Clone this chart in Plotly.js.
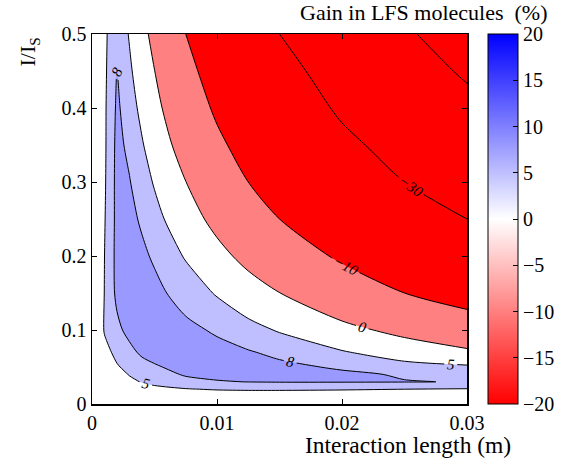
<!DOCTYPE html>
<html><head><meta charset="utf-8">
<script src="https://cdn.plot.ly/plotly-3.0.1.min.js"></script>
<style>html,body{margin:0;padding:0;background:#fff}#chart{width:572px;height:458px}</style>
</head><body><div id="chart"></div>
<script>
// Interaction length (m) grid and I/I_S grid
const lengthM = [0, 0.001, 0.002, 0.003, 0.004, 0.005, 0.0075, 0.01, 0.0125, 0.015, 0.02, 0.025, 0.03];
const intensity = [0, 0.01, 0.02, 0.03, 0.04, 0.05, 0.07, 0.1, 0.15, 0.2, 0.25, 0.3, 0.35, 0.4, 0.45, 0.5];
// Gain in LFS molecules (%), one row per intensity value
const gain = [
  [0, 0,   0,    0,    0,    0,    0,     0,     0,     0,     0,     0,     0],
  [0, 0.5, 1.0,  1.4,  1.8,  2.1,  2.6,   2.8,   2.9,   2.9,   2.85,  2.75,  2.6],
  [0, 1.0, 1.9,  2.8,  3.5,  4.0,  4.8,   5.25,  5.4,   5.4,   5.25,  5.0,   4.8],
  [0, 1.5, 2.9,  4.2,  5.2,  6.0,  7.3,   7.8,   8.05,  8.15,  8.15,  8.1,   7.9],
  [0, 2.0, 3.7,  5.2,  6.2,  7.0,  8.25,  8.7,   8.8,   8.7,   8.48,  7.75,  6.47],
  [0, 2.5, 4.7,  5.9,  6.9,  7.7,  8.9,   9.3,   9.07,  8.65,  7.65,  6.18,  5.6],
  [0, 3.9, 5.9,  7.2,  8.55, 9.0,  9.4,   8.82,  8.22,  7.35,  5.29,  3.15,  0.99],
  [0, 5.3, 7.3,  8.9,  9.3,  9.4,  8.65,  7.65,  6.18,  4.69,  1.6,   -1.61, -4.97],
  [0, 5.1, 8.7,  9.2,  9.2,  8.7,  6.91,  4.69,  2.38,  0.06,  -4.97, -10,   -14],
  [0, 5.0, 8.9,  9.1,  8.48, 7.65, 4.69,  1.6,   -1.61, -4.97, -11.33,-16.67,-22],
  [0, 4.8, 8.85, 8.65, 7.65, 6.18, 2.38,  -1.61, -5.8,  -10,   -16.67,-23.33,-30],
  [0, 4.6, 8.9,  8.14, 6.47, 4.69, 0.06,  -4.97, -10,   -14,   -22,   -30,   -35.45],
  [0, 4.5, 8.8,  7.35, 5.29, 3.15, -2.45, -8.32, -13.33,-18,   -27.33,-34.5, -40.9],
  [0, 4.5, 8.5,  6.47, 4.07, 1.6,  -4.97, -11.33,-16.67,-22,   -31.8, -39.1, -46.4],
  [0, 4.4, 8.05, 5.59, 2.84, 0.06, -7.48, -14,   -20,   -26,   -35.45,-43.6, -51.8],
  [0, 4.3, 7.6,  4.7,  1.6,  -1.6, -10,   -16.67,-23.33,-30,   -39.1, -48.2, -57.2]
];
// filled bands: region above 5, above 8, below 0, below -10
const bandValues = [5, 8, 0, -10];
const bandAbove = [true, true, false, false];
const levelsNeg = [-50, -30, -10];
const levelsLow = [0, 5];
const levelsTop = [8];
const xTicks = [0, 0.01, 0.02, 0.03];
const xTickText = ['0', '0.01', '0.02', '0.03'];
const yTicks = [0, 0.1, 0.2, 0.3, 0.4, 0.5];
const yTickText = ['0', '0.1', '0.2', '0.3', '0.4', '0.5'];
const cbTicks = [-20, -15, -10, -5, 0, 5, 10, 15, 20];

// styles
const FONT = 'Liberation Serif, Times New Roman, serif';
const bandColors = ['rgb(191,191,255)', 'rgb(153,153,255)', 'rgb(255,128,128)', 'rgb(255,0,0)'];
const bwr = [[0, 'rgb(255,0,0)'], [0.5, 'rgb(255,255,255)'], [1, 'rgb(0,0,255)']];
// tiny offset so a level equal to the all-zero axis edges is not traced along the corner
const EPS = 1e-6;

const traces = [];
bandValues.forEach((v, i) => {
  // Plotly shades the region that FAILS the constraint, so invert the operation
  traces.push({
    type: 'contour', x: lengthM, y: intensity, z: gain,
    contours: {type: 'constraint', operation: bandAbove[i] ? '<' : '>', value: v - EPS},
    fillcolor: bandColors[i], line: {width: 0, color: 'rgba(0,0,0,0)', smoothing: 0.8},
    showscale: false, hoverinfo: 'skip', showlegend: false
  });
});
function lineTrace(levels) {
  const step = levels.length > 1 ? levels[1] - levels[0] : 1;
  return {
    type: 'contour', x: lengthM, y: intensity, z: gain, autocontour: false,
    contours: {coloring: 'none', start: levels[0] - EPS, end: levels[levels.length - 1] + step / 2, size: step,
      showlabels: true, labelformat: '.0f',
      labelfont: {family: FONT, size: 15, color: 'black', style: 'italic'}},
    line: {color: 'black', width: 1, smoothing: 0.8},
    showscale: false, hoverinfo: 'skip', showlegend: false
  };
}
traces.push(lineTrace(levelsNeg), lineTrace(levelsLow), lineTrace(levelsTop));
traces.push({
  type: 'scatter', x: [null], y: [null], mode: 'markers', hoverinfo: 'skip', showlegend: false,
  marker: {color: [0], cmin: -20, cmax: 20, colorscale: bwr, showscale: true,
    colorbar: {x: 1.0547, xanchor: 'left', y: 0.5, yanchor: 'middle', len: 1, lenmode: 'fraction',
      thickness: 30, thicknessmode: 'pixels', outlinewidth: 1, outlinecolor: 'black',
      tickmode: 'array', tickvals: cbTicks, ticks: 'inside', ticklen: 5, tickcolor: 'black',
      tickfont: {family: FONT, size: 20, color: 'black'}, xpad: 0, ypad: 0, borderwidth: 0}}
});

const axisCommon = {
  ticks: 'inside', ticklen: 5, tickcolor: 'black', showline: true, mirror: 'allticks',
  linecolor: 'black', linewidth: 1.5, showgrid: false, zeroline: false,
  tickfont: {family: FONT, size: 20, color: 'black'}, tickmode: 'array'
};
const layout = {
  width: 572, height: 458, margin: {l: 92, r: 96, t: 34, b: 54},
  paper_bgcolor: 'white', plot_bgcolor: 'white', showlegend: false,
  xaxis: Object.assign({}, axisCommon, {range: [0, 0.03], tickvals: xTicks, ticktext: xTickText}),
  yaxis: Object.assign({}, axisCommon, {range: [0, 0.5], tickvals: yTicks, ticktext: yTickText}),
  annotations: [
    {text: 'Interaction length (m)', xref: 'paper', yref: 'paper', x: 1.122, y: -0.11,
     xanchor: 'right', yanchor: 'middle', showarrow: false, font: {family: FONT, size: 23.5, color: 'black'}},
    {text: 'I/I<sub>S</sub>', xref: 'paper', yref: 'paper', x: -0.167, y: 0.951, textangle: -90,
     xanchor: 'center', yanchor: 'middle', showarrow: false, font: {family: FONT, size: 22, color: 'black'}},
    {text: 'Gain in LFS molecules  (%)', xref: 'paper', yref: 'paper', x: 1.219, y: 1.057,
     xanchor: 'right', yanchor: 'middle', showarrow: false, font: {family: FONT, size: 22, color: 'black'}}
  ]
};
Plotly.newPlot('chart', traces, layout, {staticPlot: true, displayModeBar: false});
</script>
</body></html>
